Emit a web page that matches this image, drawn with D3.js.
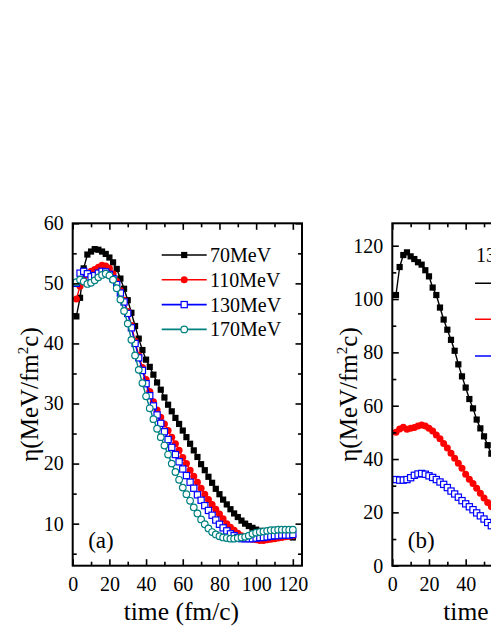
<!DOCTYPE html>
<html><head><meta charset="utf-8">
<script src="https://cdn.jsdelivr.net/npm/d3@7"></script>
<style>html,body{margin:0;padding:0;background:#fff;overflow:hidden}</style>
</head><body>
<svg id="c" width="491" height="635" font-family="'Liberation Serif','Times New Roman',serif"></svg>
<script>
// ---- data: panel (a) ----
const timeA = [2,4,6,8,10,12,14,16,18,20,22,24,26,28,30,32,34,36,38,40,42,44,46,48,50,52,54,56,58,60,62,64,66,68,70,72,74,76,78,80,82,84,86,88,90,92,94,96,98,100,102,104,106,108,110,112,114,116,118,120];
const eta70  = [44.5,47.6,52.5,54.8,55.3,55.7,55.6,55.3,54.9,54.3, 53.5,52.4,50.8,49.1,47.2,45.1,42.9,40.8,38.9,37.3, 36.1,34.8,33.5,32.3,31.0,29.8,28.7,27.6,26.6,25.5, 24.4,23.3,22.2,21.1,19.9,18.9,17.8,16.8,15.8,14.9, 14.0,13.2,12.4,11.7,11.1,10.5,10.0,9.6,9.3,9.0, 8.8,8.6,8.5,8.4,8.3,8.3,8.2,8.1,7.9,7.7];
const eta110 = [47.4,49.5,51.0,51.7,52.0,52.3,52.7,53.0,52.9,52.5, 51.6,50.3,48.8,47.2,45.3,43.0,40.4,38.0,36.0,34.0, 32.0,30.3,28.9,27.7,26.6,25.5,24.4,23.3,22.2,21.0, 20.0,18.9,17.9,16.9,15.9,14.9,14.0,13.2,12.4,11.6, 10.8,10.0,9.4,8.9,8.4,8.0,7.7,7.5,7.4,7.3, 7.2,7.2,7.3,7.4,7.5,7.6,7.7,7.8,7.9,8.0];
const eta130 = [50.0,51.7,52.0,51.6,51.1,51.3,51.7,52.0,51.9,51.5, 50.8,49.8,48.4,46.9,45.0,42.6,40.0,37.6,35.5,33.3, 31.3,29.6,28.1,26.7,25.3,24.0,22.7,21.5,20.3,19.1, 18.0,16.9,15.9,14.8,13.9,13.0,12.2,11.4,10.6,9.9, 9.3,8.8,8.3,8.0,7.7,7.5,7.5,7.5,7.5,7.6, 7.7,7.7,7.8,7.9,8.0,8.0,8.1,8.1,8.1,8.2];
const eta170 = [50.2,50.6,50.3,49.9,50.1,50.5,51.0,51.4,51.6,51.3, 50.6,49.2,47.3,45.4,43.3,40.6,38.0,35.6,33.4,31.2, 29.2,27.4,25.8,24.4,23.0,21.5,20.0,18.6,17.3,16.0, 14.9,13.8,12.7,11.7,10.7,9.9,9.2,8.6,8.2,7.9, 7.7,7.6,7.5,7.5,7.6,7.7,7.8,8.0,8.3,8.5, 8.6,8.7,8.8,8.9,8.9,9.0,9.0,9.0,9.0,9.0];
const legendA = ["70MeV","110MeV","130MeV","170MeV"];
// ---- data: panel (b) (visible part) ----
const timeB = [2,4,6,8,10,12,14,16,18,20,22,24,26,28,30,32,34,36,38,40,42,44,46,48,50,52,54,56];
const etaB1 = [101.5,112.0,116.5,117.5,116.0,115.0,113.8,112.9,110.8,108.5,104.3,101.5,96.8,92.3,88.5,84.7,80.6,75.5,71.0,66.8,62.5,59.0,54.8,51.5,48.5,45.2,42.0,39.0];
const etaB2 = [50.0,51.3,51.9,51.2,51.5,51.8,52.4,52.8,52.4,51.5,50.5,49.0,47.6,45.8,44.1,42.2,40.3,38.4,36.5,34.3,32.4,30.8,29.0,27.2,25.4,23.7,22.1,20.6];
const etaB3 = [32.3,32.1,32.1,32.3,33.0,33.9,34.4,34.6,34.3,33.7,33.1,32.3,31.4,30.5,29.3,28.0,26.9,25.7,24.4,23.2,22.1,21.0,19.8,18.7,17.5,16.2,15.0,13.9];
const legendBTitle = "130MeV";
// ---- ticks ----
const xTicks = [0,20,40,60,80,100,120];
const xMinor = [10,30,50,70,90,110];
const yTicksA = [10,20,30,40,50,60];
const yMinorA = [5,15,25,35,45,55];
const yTicksB = [0,20,40,60,80,100,120];
const yMinorB = [10,30,50,70,90,110];

const FONT = "'Liberation Serif','Times New Roman',serif";
const W = 491;
const svg = d3.select("#c");
svg.append("rect").attr("width",491).attr("height",635).attr("fill","#fff");

const styles = {
  k: {color:"#000", shape:"sq", fill:"#000"},
  r: {color:"#ff0000", shape:"ci", fill:"#ff0000"},
  b: {color:"#0000ff", shape:"sq", fill:"#fff"},
  c: {color:"#008080", shape:"ci", fill:"#fff"}
};

function marker(g, x, y, st){
  if(st.shape==="sq"){
    g.append("rect").attr("x",x-3.1).attr("y",y-3.1).attr("width",6.2).attr("height",6.2)
      .attr("fill",st.fill).attr("stroke",st.color).attr("stroke-width",st.fill==="#fff"?1.2:0);
  } else {
    g.append("circle").attr("cx",x).attr("cy",y).attr("r",st.fill==="#fff"?3.3:3.5)
      .attr("fill",st.fill).attr("stroke",st.color).attr("stroke-width",st.fill==="#fff"?1.2:0);
  }
}

function panel(opt){
  const {x0,x1,y0,y1,yDomain,yTicks,yMinor,series,label,id} = opt;
  const x = d3.scaleLinear().domain([0,125]).range([x0,x1]);
  const y = d3.scaleLinear().domain(yDomain).range([y1,y0]);
  const g = svg.append("g");
  svg.append("clipPath").attr("id",id).append("rect")
    .attr("x",x0).attr("y",y0).attr("width",x1-x0).attr("height",y1-y0);
  const dg = g.append("g").attr("clip-path",`url(#${id})`);
  series.forEach(s=>{
    const st = styles[s.style];
    const pts = s.t.map((t,i)=>[x(t),y(s.v[i])]);
    dg.append("path").attr("d",d3.line()(pts)).attr("fill","none")
      .attr("stroke",st.color).attr("stroke-width",1.4);
    pts.forEach(p=>marker(dg,p[0],p[1],st));
  });
  const ax = (gen, tr) => {
    const a = g.append("g").attr("transform",tr).call(gen);
    a.attr("font-family",FONT);
    a.select(".domain").remove();
    a.selectAll("line").attr("stroke","#000").attr("stroke-width",1.6);
    a.selectAll("text").attr("font-family",FONT).attr("font-size",20).attr("fill","#000");
    return a;
  };
  // only label ticks that fall inside the picture
  const xLab = xTicks.filter(d => x(d) + 8 < W);
  ax(d3.axisBottom(x).tickValues(xLab).tickSize(-6.5).tickPadding(11).tickFormat(d3.format("d")), `translate(0,${y1})`);
  ax(d3.axisBottom(x).tickValues(xTicks.filter(d=>!xLab.includes(d)).concat(xMinor)).tickSize(-4).tickFormat(""), `translate(0,${y1})`)
    .selectAll(".tick").filter(d=>xTicks.includes(d)).select("line").attr("y2",-6.5);
  ax(d3.axisTop(x).tickValues(xTicks).tickSize(-6.5).tickFormat(""), `translate(0,${y0})`);
  ax(d3.axisTop(x).tickValues(xMinor).tickSize(-4).tickFormat(""), `translate(0,${y0})`);
  ax(d3.axisLeft(y).tickValues(yTicks).tickSize(-6.5).tickPadding(9).tickFormat(d3.format("d")), `translate(${x0},0)`);
  ax(d3.axisLeft(y).tickValues(yMinor).tickSize(-4).tickFormat(""), `translate(${x0},0)`);
  ax(d3.axisRight(y).tickValues(yTicks).tickSize(-6.5).tickFormat(""), `translate(${x1},0)`);
  ax(d3.axisRight(y).tickValues(yMinor).tickSize(-4).tickFormat(""), `translate(${x1},0)`);
  g.append("rect").attr("x",x0).attr("y",y0).attr("width",x1-x0).attr("height",y1-y0)
    .attr("fill","none").attr("stroke","#000").attr("stroke-width",2);
  g.append("text").attr("x",x0+108.7).attr("y",620).attr("text-anchor","middle")
    .attr("font-family",FONT).attr("font-size",25.5).text("time (fm/c)");
  const yl = g.append("text").attr("transform",`translate(${x0-35},${(y0+y1)/2}) rotate(-90)`)
    .attr("text-anchor","middle").attr("font-family",FONT).attr("font-size",25);
  yl.append("tspan").text("η(MeV/fm");
  yl.append("tspan").attr("font-size",15).attr("dy",-10).text("2");
  yl.append("tspan").attr("dy",10).text("c)");
  g.append("text").attr("x",x0+15.5).attr("y",548).attr("font-family",FONT)
    .attr("font-size",23).text(label);
  return {x,y,g};
}

// Panel (a)
panel({id:"ca", x0:72.7, x1:302, y0:223.3, y1:565.7, yDomain:[3,60],
  yTicks:yTicksA, yMinor:yMinorA, label:"(a)",
  series:[{t:timeA,v:eta70,style:"k"},{t:timeA,v:eta110,style:"r"},{t:timeA,v:eta130,style:"b"},{t:timeA,v:eta170,style:"c"}]});
["k","r","b","c"].forEach((s,i)=>{
  const yy = 255 + i*24.8, st = styles[s];
  svg.append("line").attr("x1",161.7).attr("x2",206.7).attr("y1",yy).attr("y2",yy)
    .attr("stroke",st.color).attr("stroke-width",1.6);
  marker(svg,184.2,yy,st);
  svg.append("text").attr("x",210).attr("y",yy+7).attr("font-family",FONT)
    .attr("font-size",20).text(legendA[i]);
});

// Panel (b)
panel({id:"cb", x0:392.3, x1:621.6, y0:223.3, y1:565.7, yDomain:[0,128.4],
  yTicks:yTicksB, yMinor:yMinorB, label:"(b)",
  series:[{t:timeB,v:etaB1,style:"k"},{t:timeB,v:etaB2,style:"r"},{t:timeB,v:etaB3,style:"b"}]});
svg.append("text").attr("x",476).attr("y",262).attr("font-family",FONT)
  .attr("font-size",20).text(legendBTitle);
["k","r","b"].forEach((s,i)=>{
  const yy = [283.3,319.3,356][i], st = styles[s];
  svg.append("line").attr("x1",475).attr("x2",520).attr("y1",yy).attr("y2",yy)
    .attr("stroke",st.color).attr("stroke-width",1.6);
  marker(svg,497.5,yy,st);
});
</script>
</body></html>
